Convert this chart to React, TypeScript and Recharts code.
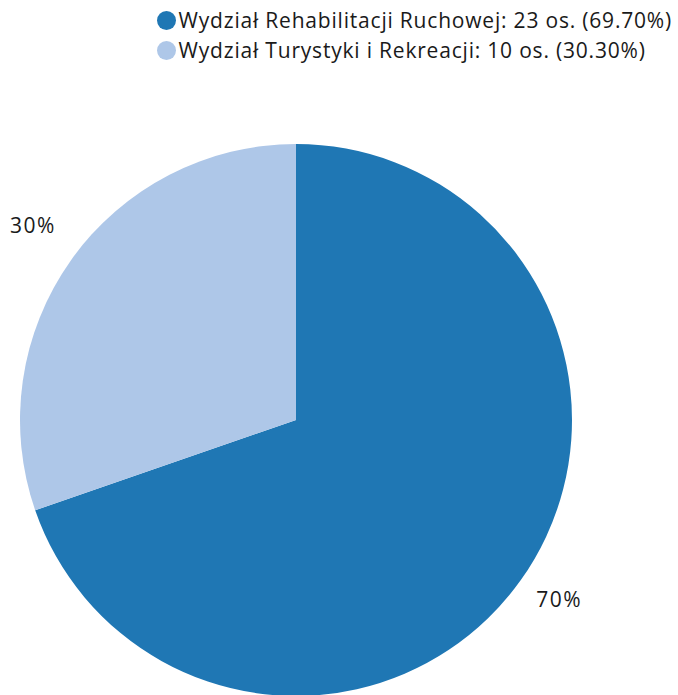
import { PieChart, Pie, Cell, Legend } from 'recharts';

const NAMES = ['Wydział Rehabilitacji Ruchowej', 'Wydział Turystyki i Rekreacji'];
const COUNTS = [23, 10];
const COLORS = ['#1f77b4', '#aec7e8'];

const DATA = NAMES.map((name, i) => ({ name, value: COUNTS[i] }));
const TOTAL = COUNTS.reduce((a, b) => a + b, 0);

const FONT = '"Open Sans", sans-serif';
const RAD = Math.PI / 180;

function renderLabel(props: any) {
  const { cx, cy, midAngle, outerRadius, percent } = props;
  const r = outerRadius + 47;
  const x = cx + r * Math.cos(-midAngle * RAD);
  const y = cy + r * Math.sin(-midAngle * RAD);
  return (
    <text
      x={x}
      y={y}
      textAnchor="middle"
      fill="#1a1a1a"
      fontSize={21}
      letterSpacing={1.5}
      fontFamily={FONT}
    >
      {`${Math.round(percent * 100)}%`}
    </text>
  );
}

function LegendBox() {
  return (
    <div
      style={{
        fontFamily: FONT,
        fontSize: 21,
        letterSpacing: 0.8,
        color: '#1a1a1a',
        lineHeight: '30px',
      }}
    >
      {DATA.map((d, i) => (
        <div key={d.name} style={{ display: 'flex', alignItems: 'center', whiteSpace: 'nowrap' }}>
          <span
            style={{
              display: 'inline-block',
              width: 19,
              height: 19,
              borderRadius: '50%',
              background: COLORS[i],
              marginRight: 3,
            }}
          />
          {`${d.name}: ${d.value} os. (${((d.value / TOTAL) * 100).toFixed(2)}%)`}
        </div>
      ))}
    </div>
  );
}

export default function App() {
  return (
    <div>
      <style>{'body{margin:0;background:#fff}'}</style>
      <PieChart width={678} height={695} margin={{ top: 0, right: 0, bottom: 0, left: 0 }}>
        <Legend
          verticalAlign="top"
          align="right"
          layout="vertical"
          wrapperStyle={{ top: 5, right: 6 }}
          content={() => <LegendBox />}
        />
        <Pie
          data={DATA}
          dataKey="value"
          cx={296}
          cy={420}
          outerRadius={276}
          startAngle={90}
          endAngle={-270}
          stroke="none"
          label={renderLabel}
          labelLine={false}
          isAnimationActive={false}
        >
          {DATA.map((d, i) => (
            <Cell key={d.name} fill={COLORS[i]} />
          ))}
        </Pie>
      </PieChart>
    </div>
  );
}
